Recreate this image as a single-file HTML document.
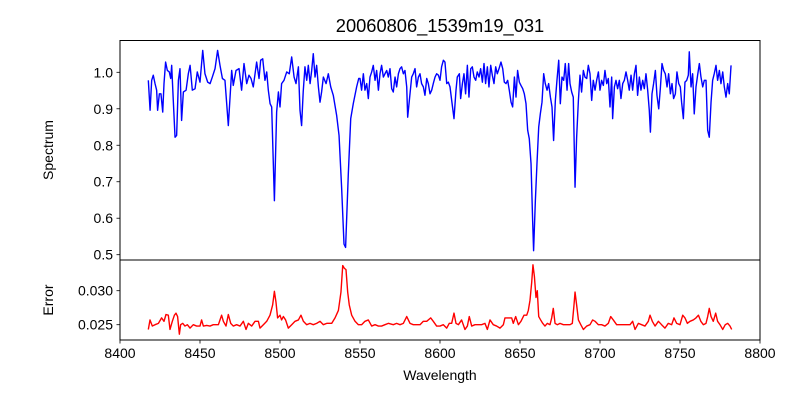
<!DOCTYPE html>
<html><head><meta charset="utf-8"><style>
html,body{margin:0;padding:0;background:#fff;}
svg text{font-family:"Liberation Sans","DejaVu Sans",sans-serif;fill:#000;}
</style></head><body>
<svg id="chart" width="800" height="400" viewBox="0 0 800 400" xmlns="http://www.w3.org/2000/svg">
<rect x="0" y="0" width="800" height="400" fill="#fff"/>
<text x="440" y="32" font-size="18.3" text-anchor="middle">20060806_1539m19_031</text>
<g id="topPanel"></g>
<g id="botPanel"></g>
<text transform="translate(53,150) rotate(-90)" font-size="14" text-anchor="middle">Spectrum</text>
<text transform="translate(53,300) rotate(-90)" font-size="14" text-anchor="middle">Error</text>
<text x="440" y="380" font-size="14" text-anchor="middle">Wavelength</text>
</svg>
<script>
const specWave=[8417.7,8418.8,8419.8,8420.8,8421.9,8422.9,8423.5,8424.6,8425.6,8426.7,8427.5,8428.5,8429.6,8430.8,8431.7,8432.3,8433.3,8434.4,8435.4,8436.5,8437.5,8438.5,8439.6,8441.3,8442.7,8443.8,8445.2,8446.9,8448.3,8450,8451.7,8453.1,8454.8,8456.3,8457.7,8459.4,8461,8462.5,8464,8465.6,8467.7,8469.8,8470.8,8472.5,8474.4,8476,8477.5,8479.2,8480.6,8481.9,8483.3,8485.4,8486.9,8487.9,8489.2,8490.6,8491.7,8492.7,8493.8,8494.8,8496.5,8497.9,8499,8500,8501,8502.5,8504.2,8505.8,8507.3,8508.8,8510,8511.5,8512.5,8513.5,8514.5,8515.6,8516.7,8517.7,8518.8,8519.8,8520.8,8521.9,8522.9,8524,8525,8526,8527.1,8528.8,8530.2,8531.7,8533.3,8535.4,8536.9,8538.5,8540,8541,8542.7,8544.2,8545.8,8547.9,8549.2,
8550,8551.0,8552.1,8553.1,8554.2,8555.2,8556.25,8557.3,8558.3,8559.4,8560.4,8561.5,8562.5,8563.5,8564.6,8565.6,8566.7,8567.7,8568.75,8569.8,8570.8,8571.9,8572.9,8574,8575,8576,8577.1,8578.1,8579.2,8579.8,8581.25,8582.3,8583.3,8584.4,8585.4,8586.5,8587.5,8588.5,8589.6,8590.6,8591.7,8592.7,8593.75,8594.8,8595.8,8596.9,8597.9,8599,8600,8601,8602.1,8603.1,8604.2,8605.2,8606.25,8607.3,8608.75,8610,8610.8,8612.1,8612.9,8614,8615,8616,8617.1,8618.1,8619.2,8620.2,8621.25,8622.3,8623.3,8624.4,8625.4,8626.5,8627.5,8628.5,8629.6,8630.6,8631.7,8632.7,8633.75,8634.8,8635.8,8636.9,8638.1,8639.2,8640.2,8641.25,8642.3,8643.3,8644.4,8645.4,8646.5,8647.5,8648.5,8649.6,8650.6,8651.7,8652.7,8653.75,8654.8,8655.8,8656.9,8657.9,8658.5,8659.6,8660.6,8661.7,8662.7,8663.75,8664.8,8665.8,8666.9,8667.9,8669,8670,8671,8672.1,8673.1,8674.2,8675.2,8676.25,8677.3,8678.3,8679.4,8680.4,
8681.25,8682.3,8683.3,8684.4,8685.4,8686.5,8687.5,8688.5,8689.6,8690.6,8691.7,8692.7,8693.75,8694.8,8695.8,8696.9,8697.9,8699,8700,8701,8702.1,8703.1,8704.2,8705.2,8706.25,8707.3,8707.9,8709,8710,8711,8712.1,8713.1,8714.2,8715.2,8716.25,8717.3,8718.3,8719.4,8720.4,8721.5,8722.5,8723.5,8724.6,8725.6,8726.7,8727.7,8728.75,8729.8,8730.8,8731.5,8732.5,8733.5,8734.6,8735.6,8736.7,8737.7,8738.75,8739.8,8740.8,8741.9,8742.9,8744,8745,8746,8747.1,8748.1,8749.2,8750.2,8751,8752.1,8753.1,8754.2,8755.2,8755.8,8756.9,8757.9,8758.9,8760,8761,8762.1,8763.1,8764.2,8765.2,8766.25,8767.3,8768.3,8769.4,8770.4,8771.4,8772.5,8773.5,8774.6,8775.6,8776.7,8777.7,8778.75,8779.8,8780.8,8781.9];
const specFlux=[.978,.896,.978,.992,.969,.951,.896,.941,.941,.891,.969,1.028,1.005,1.001,.983,1.019,.923,.822,.827,.978,1.010,.868,.946,.951,.996,1.019,.951,.955,1.001,.973,1.06,.996,.973,.969,.987,1.010,1.06,1.019,.983,.978,.854,1.005,.964,1.005,1.010,.951,1.024,.969,.992,.983,.960,1.028,.983,1.033,1.037,.978,1.001,.951,.914,.905,.648,.891,.946,.905,.969,.978,1.001,.996,1.042,.987,.969,1.015,.896,.854,.946,1.015,.978,1.019,.969,1.005,1.051,.987,1.019,.960,.918,.946,.987,.969,.996,.960,.937,.882,.827,.685,.529,.520,.722,.873,.914,.960,.983,
.983,.951,.996,.951,.969,.928,.987,1.001,1.019,.978,1.005,.951,.996,1.019,.987,.996,1.005,.987,1.010,.955,.946,.987,.960,.996,1.010,1.015,.996,1.005,.960,.877,.941,.987,.996,1.010,.960,.987,.996,.969,.960,.937,.983,.969,.941,.951,.969,.987,.996,.992,.978,1.015,1.033,1.028,.969,.973,.960,.923,.873,.951,.987,.996,.928,.969,.996,.941,1.019,.932,1.010,1.015,.987,.978,1.001,.987,1.010,.973,1.024,.969,1.015,.960,1.019,.992,.969,1.015,.996,1.010,1.028,1.010,.973,.969,.978,.951,.918,.905,.987,.932,1.005,.973,.964,.955,.941,.914,.841,.818,.749,.593,.511,.648,.749,.850,.886,.918,.996,.969,.951,.969,.932,.905,.813,.923,.978,1.033,.914,.987,.978,1.024,.951,1.024,
.969,.946,.932,.685,.822,.923,.992,.946,1.005,.987,.983,1.019,.996,.923,.978,.951,.978,1.001,.951,.978,.964,1.005,.969,.983,.905,.987,.873,.960,.978,.955,.978,.928,.969,.978,1.001,.978,.951,.992,.951,.996,1.019,.937,.987,.951,.978,.955,.996,.951,.896,.836,.941,.969,1.005,.937,.900,.955,1.024,1.005,.996,.960,.996,.941,.969,.928,.941,1.001,.969,.960,.918,.873,.973,.978,.992,1.056,.960,.996,.886,.960,.992,1.024,.987,.960,.978,.978,.841,.822,.918,.978,.996,1.019,.978,1.005,.969,1.001,.960,.932,.969,.941,1.019];
const errWave=[8417.7,8418.75,8420.2,8421.9,8424,8426,8427.5,8428.75,8430.2,8431.25,8432.7,8434,8435,8436,8437.1,8437.9,8439.2,8440.6,8442.1,8443.75,8445.8,8447.9,8450,8451,8452.1,8454.2,8456.25,8458.3,8461.5,8463.5,8464.6,8466.25,8467.7,8469.2,8470.8,8472.9,8475,8477.1,8478.75,8480.2,8482.3,8484.4,8486.5,8487.5,8489.6,8491.7,8493.75,8495.4,8496.5,8497.5,8498.5,8500,8501,8502.1,8503.5,8505.2,8507.3,8509.4,8511.5,8513.1,8514.6,8516.7,8518.75,8520.8,8522.9,8525,8527.1,8529.2,8532.3,8534.4,8536.5,8538.1,8539.2,8540.2,8541.25,8542.3,8543.3,8544.8,8546.9,8549,8551,8553.1,8555.2,8557.3,8559.4,8561.5,8563.5,8565.6,8567.7,8570.8,8572.9,8575,8577.1,8579.2,8581.25,8583.3,8585.4,8587.5,8589.6,8591.7,8594.2,8595.8,8597.9,8600,8602.1,8604.2,8605.8,
8607.3,8608.75,8610,8611.5,8613.5,8615.6,8617.1,8618.3,8619.8,8621.9,8624,8626,8628.1,8629.6,8631.25,8633.3,8635.4,8637.5,8639.6,8640.6,8642.7,8644.8,8645.8,8647.3,8649,8650.6,8652.5,8654.2,8655.2,8656.25,8657.3,8658.1,8659,8660,8660.8,8661.7,8662.9,8664.2,8665.6,8667.1,8668.75,8669.8,8670.8,8671.9,8673.3,8675,8677.1,8679.2,8681.25,8682.7,8683.75,8684.4,8685.4,8686.5,8688,8689.6,8691.7,8693.75,8695.4,8696.9,8699,8701,8703.1,8705.2,8706.7,8708.3,8710.4,8712.5,8714.6,8716.7,8718.75,8720.4,8721.9,8724,8726,8728.1,8730.2,8731.25,8732.7,8734.4,8736.5,8738.5,8740.6,8742.7,8744.8,8746.25,8747.9,8750,8751.7,8753.1,8754.6,8756.25,8758.3,8760,8761.5,8763,8764.6,8766.25,8767.3,8768.3,8769.4,8770.8,8772.3,8773.5,8775,8776.7,8778.3,8779.8,8781.25,8782.3];
const errVal=[.0243,.0257,.0248,.0250,.0252,.0260,.0255,.0265,.0264,.0243,.0255,.0264,.0267,.0262,.0236,.0250,.0252,.0248,.0250,.0245,.0250,.0248,.0248,.0257,.0248,.0249,.0248,.0250,.0250,.0264,.0255,.0248,.0265,.0252,.0248,.0250,.0248,.0255,.0243,.0252,.0248,.0255,.0255,.0245,.0250,.0255,.0264,.0279,.0299,.0283,.0260,.0264,.0257,.0262,.0257,.0245,.0250,.0255,.0257,.0264,.0255,.0250,.0252,.0250,.0252,.0255,.0250,.0252,.0252,.0260,.0271,.0298,.0337,.0333,.0331,.0298,.0279,.0264,.0255,.0250,.0250,.0255,.0257,.0248,.0250,.0248,.0248,.0250,.0252,.0250,.0252,.0250,.0252,.0262,.0252,.0250,.0250,.0250,.0255,.0255,.0260,.0255,.0248,.0248,.0250,.0245,.0252,
.0252,.0267,.0252,.0250,.0257,.0243,.0248,.0262,.0248,.0250,.0250,.0250,.0252,.0243,.0257,.0250,.0248,.0245,.0250,.0260,.0260,.0260,.0252,.0262,.0250,.0255,.0264,.0264,.0271,.0286,.0312,.0338,.0321,.0290,.0300,.0262,.0257,.0252,.0248,.0252,.0250,.0260,.0274,.0252,.0250,.0252,.0250,.0250,.0250,.0252,.0279,.0298,.0279,.0257,.0250,.0243,.0248,.0250,.0257,.0255,.0250,.0250,.0248,.0252,.0262,.0257,.0250,.0250,.0250,.0250,.0250,.0255,.0243,.0252,.0250,.0248,.0255,.0264,.0255,.0248,.0255,.0250,.0245,.0252,.0250,.0260,.0252,.0250,.0264,.0260,.0252,.0255,.0257,.0260,.0264,.0255,.0250,.0252,.0262,.0274,.0262,.0255,.0267,.0255,.0250,.0243,.0250,.0252,.0248,.0243];
const xTicks=[8400,8450,8500,8550,8600,8650,8700,8750,8800];
const specTicks=[0.5,0.6,0.7,0.8,0.9,1.0];
const specTickLabels=["0.5","0.6","0.7","0.8","0.9","1.0"];
const errTicks=[0.025,0.030];
const errTickLabels=["0.025","0.030"];

const NS="http://www.w3.org/2000/svg";
const L=120,R=760,T1=40.5,B1=260,T2=260,B2=340;
const xs=w=>L+(w-8400)*(R-L)/400;
const ys=v=>72.3+(1.0-v)*(254.7-72.3)/0.5;
const ye=v=>324.7-(v-0.025)*(324.7-290.7)/0.005;
function mk(tag,attrs,parent){const e=document.createElementNS(NS,tag);for(const k in attrs)e.setAttribute(k,attrs[k]);parent.appendChild(e);return e;}
const topG=document.getElementById('topPanel'),botG=document.getElementById('botPanel');

let d=specWave.map((w,i)=>(i?'L':'M')+xs(w).toFixed(2)+','+ys(specFlux[i]).toFixed(2)).join('');
const sp=mk('path',{d:d,fill:'none',stroke:'#0000ff','stroke-width':1.4,'stroke-linejoin':'round'},topG);


d=errWave.map((w,i)=>(i?'L':'M')+xs(w).toFixed(2)+','+ye(errVal[i]).toFixed(2)).join('');
const ep=mk('path',{d:d,fill:'none',stroke:'#ff0000','stroke-width':1.4,'stroke-linejoin':'round'},botG);



const f1=mk('rect',{x:L,y:T1,width:R-L,height:B1-T1,fill:'none',stroke:'#000','stroke-width':1},topG);


const f2=mk('rect',{x:L,y:T2,width:R-L,height:B2-T2,fill:'none',stroke:'#000','stroke-width':1},botG);



specTicks.forEach((v,i)=>{const y=ys(v);
 const t=mk('line',{x1:L-3.5,x2:L,y1:y,y2:y,stroke:'#000','stroke-width':0.8},topG);
 
 
 const tx=mk('text',{x:L-7,y:y+5,'font-size':14,'text-anchor':'end'},topG);tx.textContent=specTickLabels[i];
 
 
});
errTicks.forEach((v,i)=>{const y=ye(v);
 const t=mk('line',{x1:L-3.5,x2:L,y1:y,y2:y,stroke:'#000','stroke-width':0.8},botG);
 
 
 const tx=mk('text',{x:L-7,y:y+5,'font-size':14,'text-anchor':'end'},botG);tx.textContent=errTickLabels[i];
 
 
});
xTicks.forEach(w=>{const x=xs(w);
 const t=mk('line',{x1:x,x2:x,y1:B2,y2:B2+3.5,stroke:'#000','stroke-width':0.8},botG);
 
 
 const tx=mk('text',{x:x,y:B2+18,'font-size':14,'text-anchor':'middle'},botG);tx.textContent=String(w);
 
 
});
</script>
</body></html>
